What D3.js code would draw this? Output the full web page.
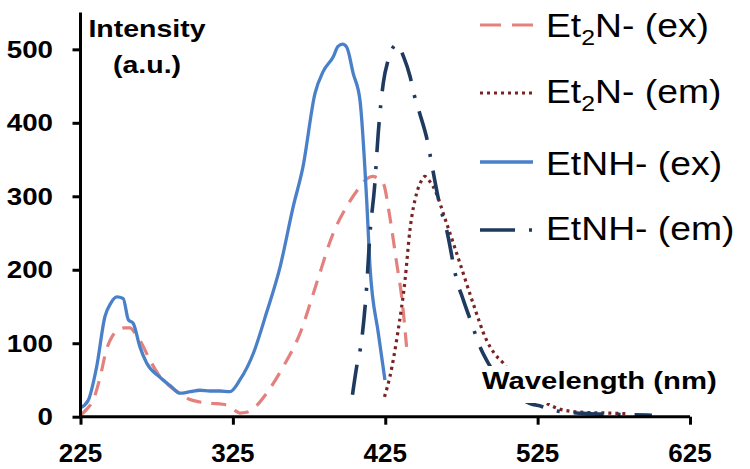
<!DOCTYPE html>
<html>
<head>
<meta charset="utf-8">
<script src="https://cdn.jsdelivr.net/npm/d3@7"></script>
<style>
html,body{margin:0;padding:0;background:#fff;}
svg{display:block;}
text{font-family:"Liberation Sans",Arial,sans-serif;}
</style>
</head>
<body>
<svg id="chart" width="750" height="469"></svg>
<script>
// ---- data ----
const xTicks = [225, 325, 425, 525, 625];
const yTicks = [0, 100, 200, 300, 400, 500];

const seriesNames = ["Et2N- (ex)", "Et2N- (em)", "EtNH- (ex)", "EtNH- (em)"];

// Et2N- excitation
const et2nExWl  = [225,229,233.4,238,242,246,249.8,254,257.5,261,264,270.6,276,281.6,290,296,303.4,312,318,323,326,329.6,334,338.4,347.2,358,369,380,390.9,399.7,408.4,413,416.5,420,423.7,428,432.5,435.8,439];
const et2nExVal = [2,10,23,55,91,110,118,121,121,113,104,77,58,45,32,24,20,18,17,14,9,5,6,11,32,68,113,182,250,286,313,324,327,325,318,272,209,163,95];

// Et2N- emission
const et2nEmWl  = [424.5,428,433.5,438,441.2,445.6,449,451,453.5,456.5,465.3,474,482.7,491.5,497,502.4,510,520,533,540,555,570,585];
const et2nEmVal = [27,54,118,186,254,304,322,327,322,313,263,209,154,104,85,73,52,32,16,10,6,5,4];

// EtNH- excitation
const etnhExWl  = [225,230,235.6,241,245,248.8,253,256.4,259.6,264,268.4,277,284,290.3,297,303.4,310,316.5,323,329.6,338.4,347,356,364.6,371,378.9,384.3,390.9,394,397,399.7,404,408.4,412.8,415,420.5,424.8];
const etnhExVal = [12,22,68,136,155,163,161,132,127,95,73,54,42,32,34,36,35,35,34,50,86,141,204,286,340,440,470,490,504,507,503,467,431,295,204,113,50];

// EtNH- emission
const etnhEmWl  = [403.5,406,409.5,412.8,415,418,420.4,423.7,427,431,433,437,441.3,444,447.3,453.2,455.4,461,465.3,471.9,476.2,482,487.2,492.6,500,510,520,527.6,535,545,560,580,600];
const etnhEmVal = [30,65,104,177,250,313,386,454,486,505,507,490,463,438,415,370,345,286,254,186,159,125,95,73,50,30,18,14,9,6,4,3,2];

// ---- chart ----
const svg = d3.select("#chart");
const x = d3.scaleLinear().domain([225, 625]).range([80.5, 690]);
const y = d3.scaleLinear().domain([0, 550]).range([416.7, 12.6]);

const styles = [
  {wl: et2nExWl, val: et2nExVal, color: "#E3817D", width: 3.2, dash: "15,10", legDash: "21,11"},
  {wl: et2nEmWl, val: et2nEmVal, color: "#7B2323", width: 3.2, dash: "3,4", legDash: "3,4"},
  {wl: etnhExWl, val: etnhExVal, color: "#4A80C8", width: 3.3, dash: null, legDash: null},
  {wl: etnhEmWl, val: etnhEmVal, color: "#1F3A5F", width: 3.6, dash: "30,14,3,14", legDash: "35,14,3,60"}
];

const line = d3.line()
  .x(d => x(d[0]))
  .y(d => y(d[1]))
  .curve(d3.curveMonotoneX);

const curves = svg.append("g");
styles.forEach(s => {
  const pts = s.wl.map((w, i) => [w, s.val[i]]);
  curves.append("path")
    .datum(pts)
    .attr("d", line)
    .attr("fill", "none")
    .attr("stroke", s.color)
    .attr("stroke-width", s.width)
    .attr("stroke-linejoin", "round")
    .attr("stroke-dasharray", s.dash);
});

// helper for horizontally-stretched text
function stext(parent, tx, ty, sx, anchor, size, weight) {
  const g = parent.append("g").attr("transform", `translate(${tx},${ty}) scale(${sx},1)`);
  return g.append("text")
    .attr("x", 0).attr("y", 0)
    .attr("text-anchor", anchor)
    .attr("font-size", size)
    .attr("font-weight", weight)
    .attr("fill", "#000");
}

// axes
const xAxis = d3.axisBottom(x).tickValues(xTicks).tickSize(8).tickFormat("");
const yAxis = d3.axisLeft(y).tickValues(yTicks).tickSize(8).tickFormat("");

const gx = svg.append("g").attr("transform", `translate(0,${y(0)})`).call(xAxis);
const gy = svg.append("g").attr("transform", `translate(${x(225)},0)`).call(yAxis);
[gx, gy].forEach(g => {
  g.select(".domain").attr("stroke", "#000").attr("stroke-width", 3);
  g.selectAll(".tick line").attr("stroke", "#000").attr("stroke-width", 3);
});
gx.select(".domain").attr("d", `M${x(225)},0H${x(625)}`);
gy.select(".domain").attr("d", `M0,${y(550)}V${y(0)}`);

// tick labels
const labels = svg.append("g");
xTicks.forEach(t => {
  stext(labels, x(t), 462, 1.0, "middle", 26, "bold").text(t);
});
yTicks.forEach(t => {
  stext(labels, 53, y(t) + 8.5, 1.18, "end", 23.5, "bold").text(t);
});

// axis titles
stext(svg, 147, 36.7, 1.24, "middle", 23, "bold").text("Intensity");
stext(svg, 147, 73, 1.24, "middle", 23, "bold").text("(a.u.)");

svg.append("rect").attr("x", 478).attr("y", 366).attr("width", 250).attr("height", 37).attr("fill", "#fff");
stext(svg, 482, 389, 1.22, "start", 24, "bold").text("Wavelength (nm)");

// legend
const legRows = [
  {ly: 25, ty: 37},
  {ly: 93, ty: 103},
  {ly: 162, ty: 175},
  {ly: 230, ty: 240}
];
const leg = svg.append("g");
styles.forEach((s, i) => {
  leg.append("line")
    .attr("x1", 480).attr("x2", 533)
    .attr("y1", legRows[i].ly).attr("y2", legRows[i].ly)
    .attr("stroke", s.color)
    .attr("stroke-width", s.width)
    .attr("stroke-dasharray", s.legDash);
  const t = stext(leg, 546, legRows[i].ty, 1.13, "start", 33, "normal");
  const name = seriesNames[i];
  const m = name.match(/^Et2(.*)$/);
  if (m) {
    t.append("tspan").text("Et");
    t.append("tspan").attr("font-size", 22).attr("dy", 8).text("2");
    t.append("tspan").attr("dy", -8).text(m[1]);
  } else {
    t.text(name);
  }
});
</script>
</body>
</html>
